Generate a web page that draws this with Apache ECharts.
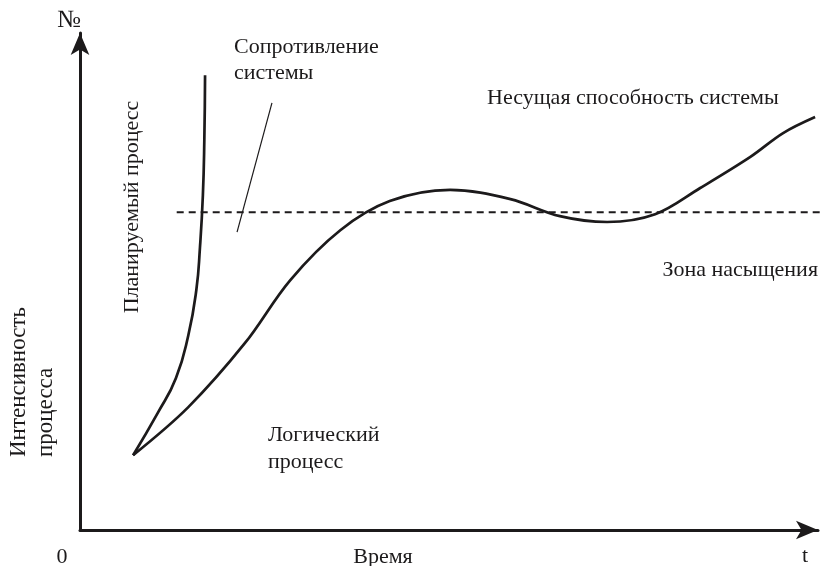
<!DOCTYPE html>
<html>
<head>
<meta charset="utf-8">
<script src="https://cdn.jsdelivr.net/npm/echarts@6/dist/echarts.min.js"></script>
<style>
  html, body { margin: 0; padding: 0; background: #fff; }
  #chart { width: 832px; height: 566px; }
</style>
</head>
<body>
<div id="chart"></div>
<script>
// curves, in axis units (x: time, y: intensity)
const plannedX = [7.3, 10.7, 13.2, 14.9, 16.0, 16.5, 16.9, 17.1, 17.2];
const plannedY = [15.4, 24.1, 31.3, 40.1, 49.4, 58.2, 68.9, 80.3, 93.6];

const logicalX = [7.3, 14.9, 22.7, 28.9, 35.8, 42.6, 50.9, 59.2, 66.0, 72.5, 79.1, 85.3, 92.2, 96.7, 101.1];
const logicalY = [15.4, 25.3, 38.5, 51.4, 61.7, 67.7, 70.0, 68.1, 64.6, 63.4, 65.0, 70.4, 76.8, 81.7, 85.0];

const saturationLevel = 65.4;
const saturationX = [13.3, 103.4];

const pointerX = [26.4, 21.6];
const pointerY = [87.9, 61.3];

const zip = (xs, ys) => xs.map((x, i) => [x, ys[i]]);

const chart = echarts.init(document.getElementById('chart'));
const ink = '#1c1a1b';
const font = '"Liberation Serif", "DejaVu Serif", serif';

function label(text, x, y, size, align, rotated) {
    return {
        type: 'text', x: x, y: y, rotation: rotated ? Math.PI / 2 : 0,
        style: { text: text, font: size + 'px ' + font, fill: ink, align: align, verticalAlign: 'middle' }
    };
}

const option = {
    animation: false,
    backgroundColor: '#fff',
    grid: { left: 80, right: 14, top: 33, bottom: 36 },
    xAxis: {
        type: 'value', min: 0, max: 101.5,
        axisLine: { lineStyle: { color: ink, width: 3 }, symbol: ['none', 'arrow'], symbolSize: [14, 22] },
        axisTick: { show: false }, axisLabel: { show: false }, splitLine: { show: false }
    },
    yAxis: {
        type: 'value', min: 0, max: 102.3,
        axisLine: { lineStyle: { color: ink, width: 3 }, symbol: ['none', 'arrow'], symbolSize: [14, 22] },
        axisTick: { show: false }, axisLabel: { show: false }, splitLine: { show: false }
    },
    series: [
        {
            name: 'Планируемый процесс', type: 'line', data: zip(plannedX, plannedY),
            smooth: true, showSymbol: false, clip: false,
            lineStyle: { color: ink, width: 2.7 }
        },
        {
            name: 'Логический процесс', type: 'line', data: zip(logicalX, logicalY),
            smooth: 0.35, showSymbol: false, clip: false,
            lineStyle: { color: ink, width: 2.7 }
        },
        {
            name: 'Зона насыщения', type: 'line',
            data: saturationX.map(x => [x, saturationLevel]),
            showSymbol: false, clip: false,
            lineStyle: { color: ink, width: 2.2, type: [7, 5] }
        },
        {
            name: 'pointer', type: 'line', data: zip(pointerX, pointerY),
            showSymbol: false, clip: false,
            lineStyle: { color: ink, width: 1.2 }
        }
    ],
    graphic: [
        label('№', 69, 20, 25, 'center'),
        label('0', 62, 557, 22, 'center'),
        label('Время', 383, 557, 22, 'center'),
        label('t', 805, 556, 22, 'center'),
        label('Сопротивление', 234, 47, 22, 'left'),
        label('системы', 234, 73, 22, 'left'),
        label('Несущая способность системы', 487, 98, 22, 'left'),
        label('Зона насыщения', 818, 270, 22, 'right'),
        label('Логический', 268, 435, 22, 'left'),
        label('процесс', 268, 462, 22, 'left'),
        label('Планируемый процесс', 132, 207, 22, 'center', true),
        label('Интенсивность', 19, 457, 23, 'left', true),
        label('процесса', 46, 457, 23, 'left', true)
    ]
};

chart.setOption(option);
</script>
</body>
</html>
